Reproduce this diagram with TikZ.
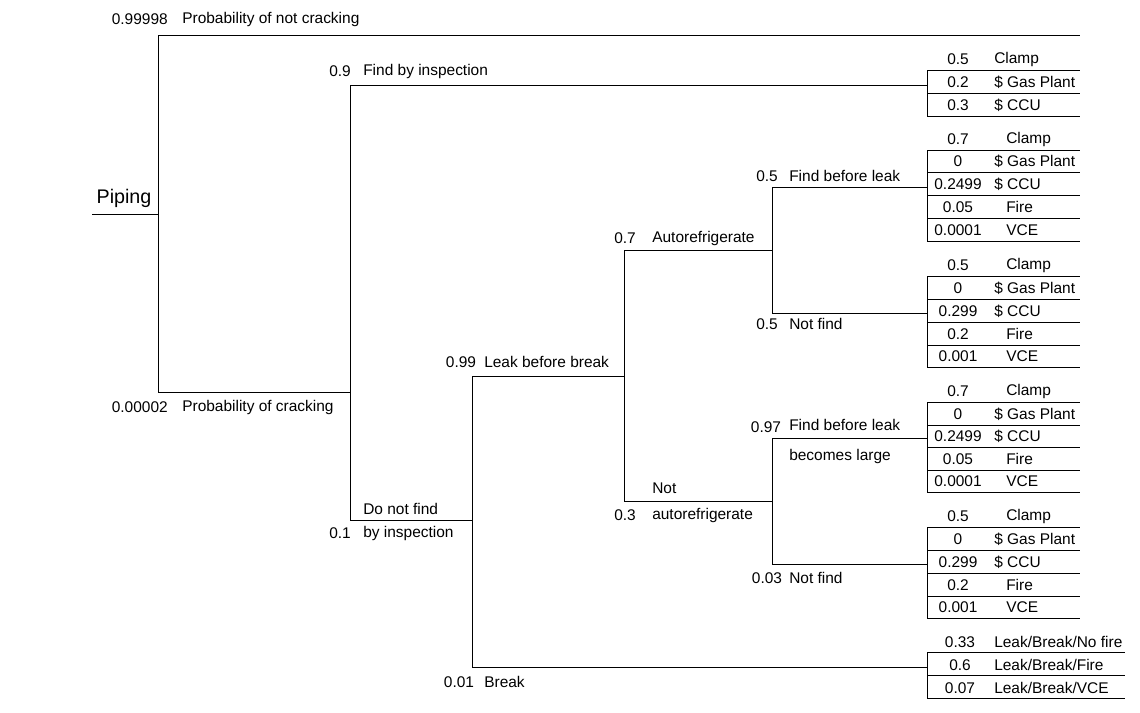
\documentclass[tikz,border=0pt]{standalone}
\usepackage{fontspec}
\setmainfont{Liberation Sans}
\usetikzlibrary{positioning}

\tikzset{
    branch/.style={black, line width=0.6pt},
    prob/.style={inner sep=0pt, font=\fontsize{11}{13}\selectfont},
    lbl/.style={inner sep=0pt, anchor=west, font=\fontsize{11}{13}\selectfont},
}

\begin{document}
\begin{tikzpicture}[x=0.025cm, y=-0.025cm]
    \useasboundingbox (0,0) rectangle (1140,712);

    % junctions
    \coordinate (P0) at (92, 214);
    \coordinate (P1) at (158, 214);
    \coordinate (NC) at (158, 35);
    \coordinate (NCend) at (1080, 35);
    \coordinate (CR) at (158, 392);
    \coordinate (CR2) at (350, 392);
    \coordinate (FI) at (350, 85);
    \coordinate (FIend) at (927, 85);
    \coordinate (DN) at (350, 520);
    \coordinate (DN2) at (472, 520);
    \coordinate (LB) at (472, 376);
    \coordinate (LB2) at (624, 376);
    \coordinate (BR) at (472, 667);
    \coordinate (BRend) at (927, 667);
    \coordinate (AR) at (624, 250);
    \coordinate (AR2) at (772, 250);
    \coordinate (NA) at (624, 501);
    \coordinate (NA2) at (772, 501);
    \coordinate (F1) at (772, 187);
    \coordinate (F1end) at (927, 187);
    \coordinate (N1) at (772, 313);
    \coordinate (N1end) at (927, 313);
    \coordinate (F2) at (772, 438);
    \coordinate (F2end) at (927, 438);
    \coordinate (N2) at (772, 564);
    \coordinate (N2end) at (927, 564);

    \node [inner sep=0pt, font=\fontsize{14}{16}\selectfont] (piping) at (124, 198) {Piping};
    \draw [branch] (P0) -- (P1);
    \draw [branch] (NC) -- (CR);
    \draw [branch] (NC) -- (NCend);
    \draw [branch] (CR) -- (CR2);
    \draw [branch] (FI) -- (DN);
    \draw [branch] (FI) -- (FIend);
    \draw [branch] (DN) -- (DN2);
    \draw [branch] (LB) -- (BR);
    \draw [branch] (LB) -- (LB2);
    \draw [branch] (BR) -- (BRend);
    \draw [branch] (AR) -- (NA);
    \draw [branch] (AR) -- (AR2);
    \draw [branch] (NA) -- (NA2);
    \draw [branch] (F1) -- (N1);
    \draw [branch] (F1) -- (F1end);
    \draw [branch] (N1) -- (N1end);
    \draw [branch] (F2) -- (N2);
    \draw [branch] (F2) -- (F2end);
    \draw [branch] (N2) -- (N2end);

    % branch labels
    \node [prob, anchor=east] (pNC) at (168, 19) {0.99998};
    \node [lbl] (tNC) at (182, 19) {Probability of not cracking};
    \node [prob, anchor=east] (pCR) at (168, 407) {0.00002};
    \node [lbl] (tCR) at (182, 407) {Probability of cracking};
    \node [prob] (pFI) at (340, 71) {0.9};
    \node [lbl] (tFI) at (363, 71) {Find by inspection};
    \node [lbl] (tDN) at (363, 509) {Do not find};
    \node [prob] (pDN) at (340, 533) {0.1};
    \node [lbl] (tDN2) at (363, 533) {by inspection};
    \node [prob] (pLB) at (461, 362) {0.99};
    \node [lbl] (tLB) at (484, 362) {Leak before break};
    \node [prob] (pBR) at (459, 682) {0.01};
    \node [lbl] (tBR) at (484, 682) {Break};
    \node [prob] (pAR) at (625, 238) {0.7};
    \node [lbl] (tAR) at (652, 238) {Autorefrigerate};
    \node [lbl] (tNA) at (652, 488) {Not};
    \node [prob] (pNA) at (625, 515) {0.3};
    \node [lbl] (tNA2) at (652, 515) {autorefrigerate};
    \node [prob] (pF1) at (767, 176) {0.5};
    \node [lbl] (tF1) at (789, 176) {Find before leak};
    \node [prob] (pN1) at (767, 324) {0.5};
    \node [lbl] (tN1) at (789, 324) {Not find};
    \node [prob] (pF2) at (766, 427) {0.97};
    \node [lbl] (tF2) at (789, 425) {Find before leak};
    \node [lbl] (tF2b) at (789, 456) {becomes large};
    \node [prob] (pN2) at (767, 578) {0.03};
    \node [lbl] (tN2) at (789, 578) {Not find};

    % outcome boxes
    \foreach \ly/\pr/\lx/\lab in {70/0.5/994/Clamp, 93/0.2/994/\$ Gas Plant, 116/0.3/994/\$ CCU,
        150/0.7/1006/Clamp, 172/0/994/\$ Gas Plant, 195/0.2499/994/\$ CCU, 218/0.05/1006/Fire, 241/0.0001/1006/VCE,
        276/0.5/1006/Clamp, 299/0/994/\$ Gas Plant, 322/0.299/994/\$ CCU, 345/0.2/1006/Fire, 367/0.001/1006/VCE,
        402/0.7/1006/Clamp, 425/0/994/\$ Gas Plant, 447/0.2499/994/\$ CCU, 470/0.05/1006/Fire, 492/0.0001/1006/VCE,
        527/0.5/1006/Clamp, 550/0/994/\$ Gas Plant, 573/0.299/994/\$ CCU, 596/0.2/1006/Fire, 618/0.001/1006/VCE}
    {
        \draw [branch] (927, \ly) -- (1080, \ly);
        \node [prob] at (958, \ly-11) {\pr};
        \node [lbl] at (\lx, \ly-11) {\lab};
    }
    \foreach \ly/\pr/\lab in {652/0.33/{Leak/Break/No fire}, 675/0.6/{Leak/Break/Fire}, 698/0.07/{Leak/Break/VCE}}
    {
        \draw [branch] (927, \ly) -- (1125, \ly);
        \node [prob] at (960, \ly-10) {\pr};
        \node [lbl] at (994, \ly-10) {\lab};
    }
    \foreach \a/\b in {70/116, 150/241, 276/367, 402/492, 527/618, 652/698}
        \draw [branch] (927, \a) -- (927, \b);
\end{tikzpicture}
\end{document}
